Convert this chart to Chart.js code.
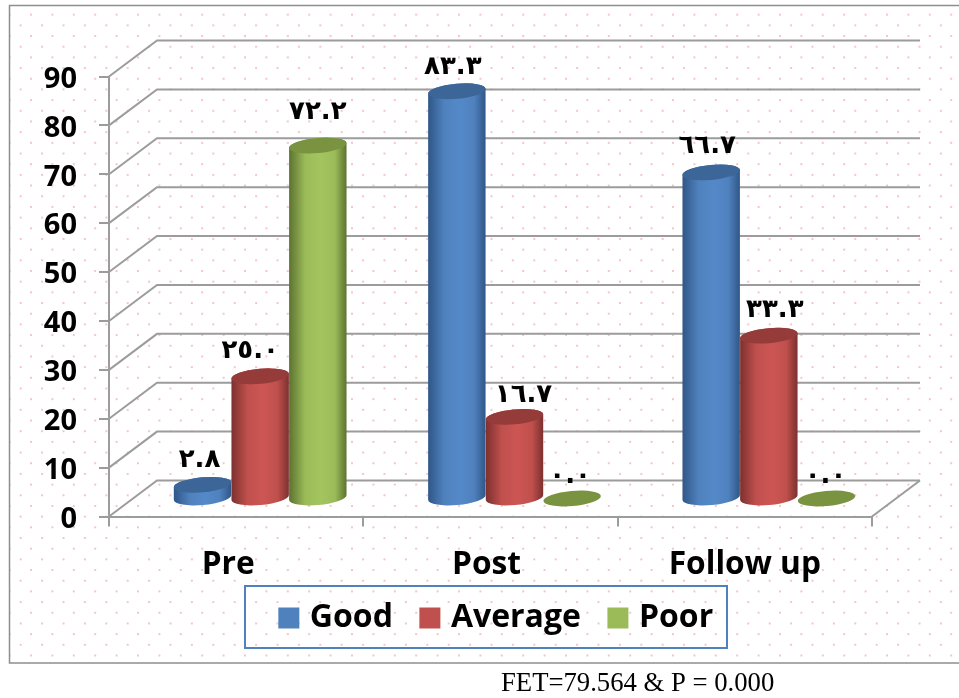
<!DOCTYPE html>
<html>
<head>
<meta charset="utf-8">
<style>
  html, body { margin: 0; padding: 0; background: #fff; }
  canvas { display: block; }
</style>
<script src="https://cdn.jsdelivr.net/npm/chart.js@4"></script>
</head>
<body>
<canvas id="chart" width="959" height="698"></canvas>
<script>
const categories = ["Pre", "Post", "Follow up"];
const seriesNames = ["Good", "Average", "Poor"];
const goodValues = [2.8, 83.3, 66.7];
const averageValues = [25.0, 16.7, 33.3];
const poorValues = [72.2, 0.0, 0.0];
const footNote = "FET=79.564 & P = 0.000";

// hand placed value labels wander off the bars in the original: [dx, dy] per series, per category
const labelNudges = [
    [[-3, -26], [-4, -25], [-4, -27]],
    [[-10, -26], [9, -23], [6, -26]],
    [[0, -34], [-2, -23], [-1, -23]]
];
const categoryNudges = [-8, -4, 0];

const GRID_COLOR = "#9c9c9c";
const DEPTH_X = 48;
const DEPTH_Y = 36;
const TILT = -0.09;
const CAP_RY = 7.5;

const shades = [
    { body: "#4f81bd", edge: "#2f5687", light: "#5489c9", cap: "#3c6598" },
    { body: "#c0504d", edge: "#7c302e", light: "#cd5654", cap: "#953b39" },
    { body: "#9bbb59", edge: "#5c7230", light: "#a3c55e", cap: "#7a9340" }
];

function arabicDigits(value) {
    return value.toFixed(1).replace(/\d/g, d => String.fromCharCode(0x0660 + Number(d)));
}

function drawCylinder(ctx, bar, shade) {
    const cx = bar.x + DEPTH_X / 2;
    const rx = bar.width / 2;
    const topY = bar.y - DEPTH_Y / 2;
    const baseY = bar.base - DEPTH_Y / 2;

    if (baseY - topY > 0.5) {
        const grad = ctx.createLinearGradient(cx - rx, 0, cx + rx, 0);
        grad.addColorStop(0, shade.edge);
        grad.addColorStop(0.28, shade.body);
        grad.addColorStop(0.55, shade.light);
        grad.addColorStop(0.8, shade.body);
        grad.addColorStop(1, shade.edge);
        ctx.fillStyle = grad;
        ctx.beginPath();
        ctx.ellipse(cx, baseY, rx, CAP_RY, TILT, Math.PI, 0, true);
        ctx.ellipse(cx, topY, rx, CAP_RY, TILT, 0, Math.PI, true);
        ctx.closePath();
        ctx.fill();
    }

    ctx.fillStyle = shade.cap;
    ctx.beginPath();
    ctx.ellipse(cx, topY, rx, CAP_RY, TILT, 0, Math.PI * 2);
    ctx.fill();
}

const backdrop = {
    id: "backdrop",
    beforeDraw(chart) {
        const ctx = chart.ctx;
        ctx.save();
        ctx.fillStyle = "#fff";
        ctx.fillRect(0, 0, chart.width, chart.height);

        // dotted chart-area fill
        ctx.beginPath();
        ctx.rect(10, 6, chart.width - 10, 657);
        ctx.clip();
        ctx.fillStyle = "#f6c6c6";
        for (let row = 0; row < 62; row++) {
            const y = 4 + row * 10.68;
            for (let x = row % 2 ? 9.6 : -0.7; x < chart.width; x += 21.4) {
                ctx.fillRect(x - 1, y - 1, 2, 2);
            }
        }
        ctx.restore();

        ctx.save();
        ctx.strokeStyle = "#8e8e8e";
        ctx.lineWidth = 1.5;
        ctx.beginPath();
        ctx.moveTo(chart.width, 5.5);
        ctx.lineTo(9.5, 5.5);
        ctx.lineTo(9.5, 663);
        ctx.lineTo(chart.width, 663);
        ctx.stroke();
        ctx.restore();
    }
};

const walls = {
    id: "walls",
    beforeDatasetsDraw(chart) {
        const ctx = chart.ctx;
        const y = chart.scales.y;
        const x = chart.scales.x;
        const area = chart.chartArea;

        ctx.save();
        ctx.strokeStyle = GRID_COLOR;
        ctx.lineWidth = 2;
        y.ticks.forEach(tick => {
            const py = y.getPixelForValue(tick.value);
            ctx.beginPath();
            ctx.moveTo(area.left, py);
            ctx.lineTo(area.left + DEPTH_X, py - DEPTH_Y);
            ctx.lineTo(area.right + DEPTH_X, py - DEPTH_Y);
            ctx.stroke();
        });
        ctx.beginPath();
        ctx.moveTo(area.right, area.bottom);
        ctx.lineTo(area.right + DEPTH_X, area.bottom - DEPTH_Y);
        ctx.stroke();
        ctx.restore();

        // cylinders replace the flat bars, later series sit on top of earlier ones
        chart.data.datasets.forEach((ds, i) => {
            chart.getDatasetMeta(i).data.forEach(bar => drawCylinder(ctx, bar, shades[i]));
        });

        ctx.save();
        ctx.fillStyle = "#000";
        ctx.font = "bold 26px 'DejaVu Sans'";
        ctx.letterSpacing = "5px";
        ctx.textAlign = "center";
        ctx.textBaseline = "middle";
        chart.data.datasets.forEach((ds, i) => {
            chart.getDatasetMeta(i).data.forEach((bar, j) => {
                const nudge = labelNudges[i][j];
                ctx.fillText(arabicDigits(ds.data[j]),
                    bar.x + DEPTH_X / 2 + nudge[0],
                    bar.y - DEPTH_Y / 2 + nudge[1] + 1);
            });
        });
        ctx.restore();

        // category names, they do not sit on the tick centres in the original
        ctx.save();
        ctx.fillStyle = "#000";
        ctx.font = "bold 31.7px 'Open Sans'";
        ctx.textAlign = "center";
        ctx.textBaseline = "middle";
        categories.forEach((name, i) => {
            ctx.fillText(name, x.getPixelForTick(i) + categoryNudges[i], 565);
        });
        ctx.restore();

        return false;
    },
    afterDraw(chart) {
        const ctx = chart.ctx;
        ctx.save();
        ctx.strokeStyle = "#4f81bd";
        ctx.lineWidth = 2;
        ctx.strokeRect(245, 586, 482, 62);
        ctx.fillStyle = "#000";
        ctx.font = "26.7px 'Liberation Serif'";
        ctx.textBaseline = "alphabetic";
        ctx.fillText(footNote, 501, 691);
        ctx.restore();
    }
};

new Chart(document.getElementById("chart"), {
    type: "bar",
    data: {
        labels: categories,
        datasets: [
            { label: seriesNames[0], data: goodValues, backgroundColor: shades[0].body },
            { label: seriesNames[1], data: averageValues, backgroundColor: shades[1].body },
            { label: seriesNames[2], data: poorValues, backgroundColor: shades[2].body }
        ]
    },
    options: {
        responsive: false,
        animation: false,
        layout: { padding: { top: 76.5, left: 38, bottom: 54 } },
        datasets: { bar: { barPercentage: 1, categoryPercentage: 0.68 } },
        scales: {
            x: {
                afterFit(scale) { scale.height = 53.5; },
                grid: { drawOnChartArea: false, color: GRID_COLOR, lineWidth: 2, tickLength: 10 },
                border: { color: GRID_COLOR, width: 2 },
                ticks: { display: false }
            },
            y: {
                min: 0,
                max: 90,
                afterFit(scale) { scale.width = 71; },
                grid: { drawOnChartArea: false, color: GRID_COLOR, lineWidth: 2, tickLength: 10 },
                border: { color: GRID_COLOR, width: 2 },
                ticks: {
                    stepSize: 10,
                    padding: 22,
                    labelOffset: 3,
                    color: "#000",
                    font: { family: "'Open Sans'", size: 29, weight: "bold" }
                }
            },
            // only keeps the right margin free, the legend still centres on the whole page
            margin: {
                position: "right",
                afterFit(scale) { scale.width = 87; },
                grid: { display: false },
                border: { display: false },
                ticks: { display: false }
            }
        },
        plugins: {
            tooltip: { enabled: false },
            legend: {
                position: "bottom",
                labels: {
                    color: "#000",
                    font: { family: "'Open Sans'", size: 32, weight: "bold" },
                    boxWidth: 10,
                    boxHeight: 10,
                    padding: 32,
                    // thick stroke grows the swatch to 21px while keeping the text close to it
                    generateLabels(chart) {
                        return chart.data.datasets.map((ds, i) => ({
                            text: ds.label,
                            fillStyle: ds.backgroundColor,
                            strokeStyle: ds.backgroundColor,
                            lineWidth: 11,
                            fontColor: "#000",
                            datasetIndex: i
                        }));
                    }
                }
            }
        }
    },
    plugins: [backdrop, walls]
});
</script>
</body>
</html>
